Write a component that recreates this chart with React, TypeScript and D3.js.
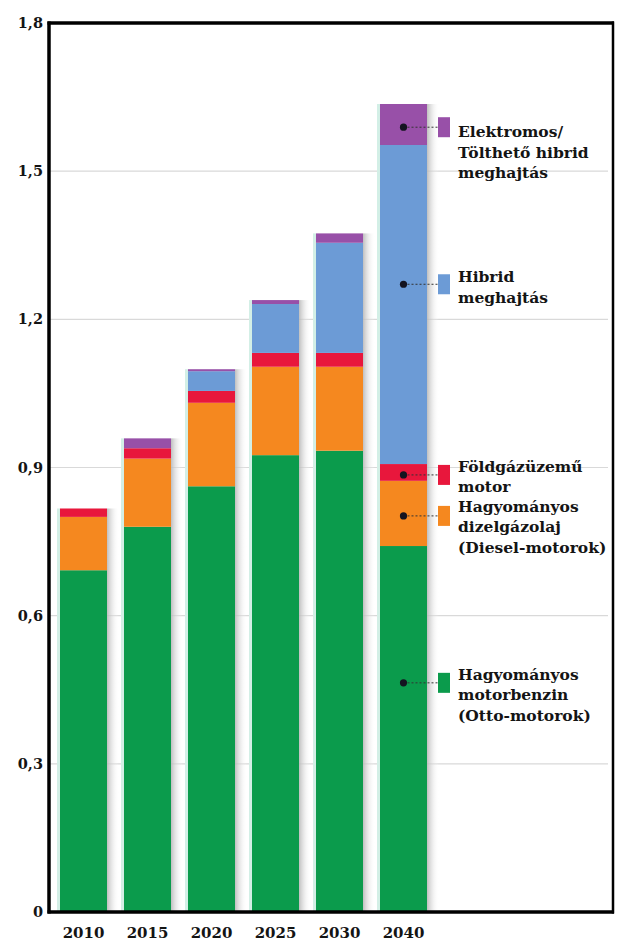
import React from "react";
import * as d3 from "d3";

// Years on the x axis
const YEARS = ["2010", "2015", "2020", "2025", "2030", "2040"];

// Stacked series values (bottom to top)
const OTTO = [0.692, 0.78, 0.862, 0.925, 0.934, 0.741];
const DIESEL = [0.108, 0.138, 0.169, 0.179, 0.17, 0.132];
const GAS = [0.017, 0.021, 0.024, 0.028, 0.028, 0.034];
const HYBRID = [0, 0, 0.04, 0.099, 0.223, 0.646];
const ELECTRIC = [0, 0.02, 0.004, 0.008, 0.019, 0.083];

// Y axis ticks
const Y_TICKS = [0, 0.3, 0.6, 0.9, 1.2, 1.5, 1.8];
const Y_TICK_LABELS = ["0", "0,3", "0,6", "0,9", "1,2", "1,5", "1,8"];

const SERIES_KEYS = ["otto", "diesel", "gas", "hybrid", "electric"];
const SERIES_COLORS: Record<string, string> = {
  otto: "#0b9b4c",
  diesel: "#f5881f",
  gas: "#e8173c",
  hybrid: "#6c9bd6",
  electric: "#9850a8",
};

// Legend labels (one line per entry) and the value where each pointer dot sits on the 2040 bar
const LEGEND_KEYS = ["electric", "hybrid", "gas", "diesel", "otto"];
const LEGEND_LINES = [
  ["Elektromos/", "Tölthető hibrid", "meghajtás"],
  ["Hibrid", "meghajtás"],
  ["Földgázüzemű", "motor"],
  ["Hagyományos", "dizelgázolaj", "(Diesel-motorok)"],
  ["Hagyományos", "motorbenzin", "(Otto-motorok)"],
];
const LEGEND_ANCHORS = [1.589, 1.271, 0.885, 0.802, 0.464];

const W = 617;
const H = 943;
const FONT = "'DejaVu Serif', serif";

export default function App() {
  const rows = YEARS.map((year, i) => ({
    year,
    otto: OTTO[i],
    diesel: DIESEL[i],
    gas: GAS[i],
    hybrid: HYBRID[i],
    electric: ELECTRIC[i],
  }));
  const stacked = d3.stack<any>().keys(SERIES_KEYS)(rows);
  const totals = rows.map((r) => SERIES_KEYS.reduce((s, k) => s + (r as any)[k], 0));

  const plotLeft = 49;
  const plotRight = 613;
  const y = d3.scaleLinear().domain([0, 1.8]).range([912, 23]);
  const x = d3
    .scaleBand<string>()
    .domain(YEARS)
    .range([60, 427])
    .paddingInner(17 / 64)
    .paddingOuter(0);
  const bw = x.bandwidth();
  const lastX = x(YEARS[YEARS.length - 1])! + bw / 2;

  const legendSquareX = 438;
  const legendTextX = 458;
  const firstLineOffset = [10, -2, -3, -4, -3];

  return (
    <svg
      width={W}
      height={H}
      style={{ position: "absolute", left: 0, top: 0, background: "#fff" }}
    >
      <defs>
        <linearGradient id="barShade" x1="0" x2="1" y1="0" y2="0">
          <stop offset="0" stopColor="#b8b8b8" stopOpacity={0.9} />
          <stop offset="1" stopColor="#ffffff" stopOpacity={0} />
        </linearGradient>
      </defs>

      {/* horizontal grid */}
      {Y_TICKS.filter((t) => t > 0 && t < 1.8).map((t) => (
        <line
          key={t}
          x1={plotLeft}
          x2={plotRight - 5}
          y1={y(t)}
          y2={y(t)}
          stroke="#d9d9d9"
          strokeWidth={1.2}
        />
      ))}

      {/* bar shadows and light edges */}
      {rows.map((r, i) => (
        <g key={r.year}>
          <rect
            x={x(r.year)! + bw}
            y={y(totals[i])}
            width={12}
            height={y(0) - y(totals[i])}
            fill="url(#barShade)"
          />
          <rect
            x={x(r.year)! - 3}
            y={y(totals[i])}
            width={3}
            height={y(0) - y(totals[i])}
            fill="#d3efe6"
          />
        </g>
      ))}

      {/* stacked bars */}
      {stacked.map((layer) => (
        <g key={layer.key} fill={SERIES_COLORS[layer.key]}>
          {layer.map((d, i) =>
            d[1] - d[0] > 0 ? (
              <rect
                key={i}
                x={x(YEARS[i])}
                y={y(d[1])}
                width={bw}
                height={y(d[0]) - y(d[1])}
              />
            ) : null
          )}
        </g>
      ))}

      {/* frame */}
      <line x1={plotLeft} x2={plotLeft} y1={21.5} y2={913.5} stroke="#000" strokeWidth={3.5} />
      <line x1={plotLeft - 1.5} x2={plotRight + 1} y1={23} y2={23} stroke="#000" strokeWidth={3.5} />
      <line x1={plotLeft - 1.5} x2={plotRight + 1} y1={912} y2={912} stroke="#000" strokeWidth={3.5} />
      <line x1={plotRight} x2={plotRight} y1={21.5} y2={913.5} stroke="#000" strokeWidth={2.5} />

      {/* y tick labels */}
      {Y_TICKS.map((t, i) => (
        <text
          key={t}
          x={43}
          y={y(t)}
          dy="0.35em"
          textAnchor="end"
          fontFamily={FONT}
          fontWeight="bold"
          fontSize={14.5}
          fill="#141414"
        >
          {Y_TICK_LABELS[i]}
        </text>
      ))}

      {/* x tick labels */}
      {YEARS.map((yr) => (
        <text
          key={yr}
          x={x(yr)! + bw / 2}
          y={938}
          textAnchor="middle"
          fontFamily={FONT}
          fontWeight="bold"
          fontSize={15}
          fill="#141414"
        >
          {yr}
        </text>
      ))}

      {/* legend with pointers into the 2040 bar */}
      {LEGEND_KEYS.map((k, i) => {
        const ay = y(LEGEND_ANCHORS[i]);
        return (
          <g key={k}>
            <line
              x1={lastX}
              x2={legendSquareX}
              y1={ay}
              y2={ay}
              stroke="#333"
              strokeWidth={1}
              strokeDasharray="2,2"
            />
            <circle cx={lastX} cy={ay} r={3.6} fill="#141420" />
            <rect
              x={legendSquareX}
              y={ay - 10}
              width={12}
              height={20}
              fill={SERIES_COLORS[k]}
            />
            <text
              x={legendTextX}
              y={ay + firstLineOffset[i]}
              fontFamily={FONT}
              fontWeight="bold"
              fontSize={15.5}
              fill="#141414"
            >
              {LEGEND_LINES[i].map((ln, j) => (
                <tspan key={j} x={legendTextX} dy={j === 0 ? 0 : 20.5}>
                  {ln}
                </tspan>
              ))}
            </text>
          </g>
        );
      })}
    </svg>
  );
}
